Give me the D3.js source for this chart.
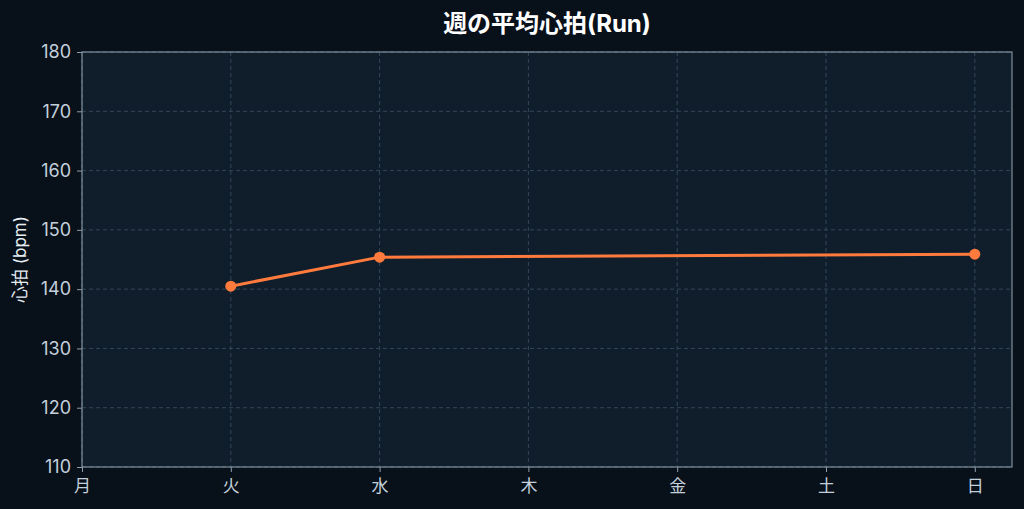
<!DOCTYPE html>
<html>
<head>
<meta charset="utf-8">
<script src="https://cdn.jsdelivr.net/npm/d3@7"></script>
<style>
  html, body { margin: 0; padding: 0; background: #08101a; }
  svg, svg text { font-family: "Inter", "Noto Sans CJK JP", sans-serif; }
</style>
</head>
<body>
<div id="vis"></div>
<script>
const WIDTH = 1024;
const HEIGHT = 509;
const MARGIN = { top: 52, right: 12, bottom: 42, left: 82 };

// datos
const DIAS = ["月", "火", "水", "木", "金", "土", "日"];
const HR = [null, 140.5, 145.4, null, null, null, 145.9];
const Y_TICKS = [110, 120, 130, 140, 150, 160, 170, 180];
const TITULO = "週の平均心拍(Run)";
const Y_LABEL = "心拍 (bpm)";

const FUENTE = '"Inter", "Noto Sans CJK JP", sans-serif';

const SVG = d3.select("#vis").append("svg")
  .attr("width", WIDTH).attr("height", HEIGHT);

SVG.append("rect").attr("width", WIDTH).attr("height", HEIGHT).attr("fill", "#08101a");

const innerW = WIDTH - MARGIN.left - MARGIN.right;
const innerH = HEIGHT - MARGIN.top - MARGIN.bottom;

const escalaX = d3.scaleLinear().domain([0, 6.25]).range([0, innerW]);
const escalaY = d3.scaleLinear().domain([110, 180]).range([innerH, 0]);

const g = SVG.append("g").attr("transform", `translate(${MARGIN.left}, ${MARGIN.top})`);

g.append("rect")
  .attr("width", innerW).attr("height", innerH)
  .attr("fill", "#101e2b");

// grilla
g.selectAll(".gy").data(Y_TICKS).join("line")
  .attr("class", "gy")
  .attr("x1", 0).attr("x2", innerW)
  .attr("y1", d => escalaY(d)).attr("y2", d => escalaY(d))
  .attr("stroke", "#33475a").attr("stroke-width", 1).attr("stroke-dasharray", "4,3");

g.selectAll(".gx").data(DIAS).join("line")
  .attr("class", "gx")
  .attr("x1", (d, i) => escalaX(i)).attr("x2", (d, i) => escalaX(i))
  .attr("y1", 0).attr("y2", innerH)
  .attr("stroke", "#33475a").attr("stroke-width", 1).attr("stroke-dasharray", "4,3");

// ejes
const ejeY = g.append("g").call(d3.axisLeft(escalaY).tickValues(Y_TICKS).tickSize(5).tickPadding(6));
const ejeX = g.append("g").attr("transform", `translate(0, ${innerH})`)
  .call(d3.axisBottom(escalaX).tickValues(d3.range(DIAS.length)).tickFormat(i => DIAS[i]).tickSize(5).tickPadding(8));

[ejeY, ejeX].forEach(eje => {
  eje.attr("font-family", null).attr("font-size", null);
  eje.select(".domain").remove();
  eje.selectAll(".tick line").attr("stroke", "#8e9eac");
  eje.selectAll(".tick text")
    .attr("fill", "#c3d0dc")
    .style("font-family", FUENTE)
    .style("font-size", "18px");
});
ejeX.selectAll(".tick text").style("font-size", "17px");

// marco
g.append("rect")
  .attr("width", innerW).attr("height", innerH)
  .attr("fill", "none").attr("stroke", "#7f8f9d").attr("stroke-width", 1.2);

// linea
const puntos = HR.map((v, i) => ({ i, v })).filter(d => d.v !== null);
const linea = d3.line().x(d => escalaX(d.i)).y(d => escalaY(d.v));

g.append("path")
  .datum(puntos)
  .attr("d", linea)
  .attr("fill", "none")
  .attr("stroke", "#ff7b3d")
  .attr("stroke-width", 3)
  .attr("stroke-linejoin", "round");

g.selectAll(".punto").data(puntos).join("circle")
  .attr("class", "punto")
  .attr("cx", d => escalaX(d.i))
  .attr("cy", d => escalaY(d.v))
  .attr("r", 5.5)
  .attr("fill", "#ff7b3d");

// textos
SVG.append("text")
  .attr("x", MARGIN.left + innerW / 2).attr("y", 32)
  .attr("text-anchor", "middle")
  .attr("fill", "#ffffff")
  .style("font-family", FUENTE)
  .style("font-size", "24px").style("font-weight", "bold")
  .text(TITULO);

SVG.append("text")
  .attr("transform", `translate(26, ${MARGIN.top + innerH / 2}) rotate(-90)`)
  .attr("text-anchor", "middle")
  .attr("fill", "#e6edf3")
  .style("font-family", FUENTE)
  .style("font-size", "17px")
  .text(Y_LABEL);
</script>
</body>
</html>
